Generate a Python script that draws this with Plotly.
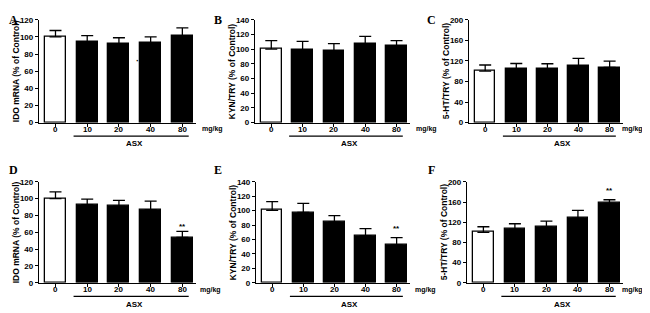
import plotly.graph_objects as go

# The page body has an 8px default margin, so the figure is drawn 8px in from the top-left.
OFF = 8
W, H = 650 - OFF, 313 - OFF

doses = ["0", "10", "20", "40", "80"]

ido_a = [100, 94, 92, 93, 101.5]
ido_a_err = [7.5, 7.5, 7, 7, 9]
kyn_b = [100, 99, 98, 107, 104.5]
kyn_b_err = [11.5, 11.5, 9.5, 10.5, 7]
ht_c = [100, 104, 104, 111, 107.5]
ht_c_err = [12, 11, 10.5, 14, 12]

ido_d = [100, 93, 91, 87, 54]
ido_d_err = [8, 6.5, 7, 10, 7]
kyn_e = [100.5, 97.5, 84.5, 65.5, 52.5]
kyn_e_err = [12, 12.5, 8.5, 9.5, 10]
ht_f = [100, 106.5, 110.5, 128, 157.5]
ht_f_err = [11, 10.5, 11.5, 15.5, 7]

panels = [
    dict(letter="A", vals=ido_a, err=ido_a_err, ymax=120, dtick=20, title="IDO mRNA (% of Control)", stars=None),
    dict(letter="B", vals=kyn_b, err=kyn_b_err, ymax=140, dtick=20, title="KYN/TRY (% of Control)", stars=None),
    dict(letter="C", vals=ht_c, err=ht_c_err, ymax=200, dtick=40, title="5-HT/TRY (% of Control)", stars=None),
    dict(letter="D", vals=ido_d, err=ido_d_err, ymax=120, dtick=20, title="IDO mRNA (% of Control)", stars=(4, 67)),
    dict(letter="E", vals=kyn_e, err=kyn_e_err, ymax=140, dtick=20, title="KYN/TRY (% of Control)", stars=(4, 75)),
    dict(letter="F", vals=ht_f, err=ht_f_err, ymax=200, dtick=40, title="5-HT/TRY (% of Control)", stars=(4, 183)),
]

# pixel geometry in window coordinates (layout only)
xdom_px = [(39, 196), (255, 410), (469, 623), (39, 196), (256, 410), (467, 623)]
ydom_px = [(16, 122), (16, 122), (16, 122), (183, 287), (183, 287), (183, 287)]
letter_px = [(8, 8), (213, 8), (426, 8), (8, 163), (213, 163), (427, 163)]
mgkg_px = [201, 415, 621, 199, 414, 621]

def px(x):
    return (x - OFF) / W

def py(y):
    return 1 - (y - OFF) / H

XR = [-0.52, 4.43]

fig = go.Figure()
LBL = dict(family="Liberation Sans, Arial", size=8, color="black", weight="bold")

for i, p in enumerate(panels):
    n = i + 1
    xa = "x" if n == 1 else f"x{n}"
    ya = "y" if n == 1 else f"y{n}"
    fig.add_trace(go.Bar(
        x=list(range(5)), y=p["vals"], width=0.66,
        marker=dict(color=["white"] + ["black"] * 4, line=dict(color="black", width=1.3)),
        error_y=dict(type="data", symmetric=False, array=p["err"], arrayminus=[0] * 5,
                     color="black", thickness=1.3, width=6),
        xaxis=xa, yaxis=ya, showlegend=False, hoverinfo="skip",
    ))
    x0, x1 = xdom_px[i]
    y0, y1 = ydom_px[i]
    xkey = "xaxis" if n == 1 else f"xaxis{n}"
    ykey = "yaxis" if n == 1 else f"yaxis{n}"
    fig.update_layout(**{
        xkey: dict(domain=[px(x0), px(x1)], range=XR, anchor=ya,
                   tickvals=list(range(5)), showticklabels=False,
                   showline=True, linecolor="black", linewidth=1.3,
                   ticks="outside", ticklen=3, tickwidth=1.3, tickcolor="black",
                   showgrid=False, zeroline=False, fixedrange=True),
        ykey: dict(domain=[py(y1), py(y0)], range=[0, p["ymax"]], anchor=xa,
                   tick0=0, dtick=p["dtick"],
                   showline=True, linecolor="black", linewidth=1.3,
                   ticks="outside", ticklen=3, tickwidth=1.3, tickcolor="black",
                   showgrid=False, zeroline=False, tickfont=LBL, fixedrange=True),
    })
    # x tick labels
    for k, d in enumerate(doses):
        fig.add_annotation(x=k, y=py(y1 + 7), xref=xa, yref="paper", text=d,
                           xanchor="center", yanchor="middle", showarrow=False, font=LBL)
    ymid = (y0 + y1) / 2
    # axis title
    fig.add_annotation(x=px(x0 - 23), y=py(ymid), xref="paper", yref="paper",
                       xanchor="center", yanchor="middle",
                       text=p["title"], textangle=-90, showarrow=False,
                       font=dict(family="Liberation Sans, Arial", size=8.5, color="black", weight="bold"))
    # panel letter
    lx, ly = letter_px[i]
    fig.add_annotation(x=px(lx), y=py(ly), xref="paper", yref="paper", xanchor="left",
                       yanchor="top", text=p["letter"], showarrow=False, borderpad=0,
                       font=dict(family="Liberation Serif, Times New Roman", size=12, color="black", weight="bold"))
    # mg/kg
    fig.add_annotation(x=px(mgkg_px[i]), y=py(y1 + 7), xref="paper", yref="paper",
                       xanchor="left", yanchor="middle", text="mg/kg", showarrow=False,
                       borderpad=0,
                       font=dict(family="Liberation Sans, Arial", size=7, color="black", weight="bold"))
    # ASX bracket line
    fig.add_shape(type="line", xref=xa, yref="paper", x0=0.57, x1=4.2,
                  y0=py(y1 + 14), y1=py(y1 + 14), line=dict(color="black", width=1.3))
    fig.add_annotation(x=2.5, y=py(y1 + 22), xref=xa, yref="paper", text="ASX",
                       xanchor="center", yanchor="middle", showarrow=False, font=LBL)
    if p["stars"]:
        sx, sy = p["stars"]
        fig.add_annotation(x=sx, y=sy, xref=xa, yref=ya, text="**", showarrow=False,
                           xanchor="center", yanchor="middle", font=LBL)

# small stray mark in panel A
fig.add_annotation(x=px(137.5), y=py(59), xref="paper", yref="paper", text="·",
                   xanchor="center", yanchor="middle",
                   showarrow=False, font=dict(family="Liberation Sans, Arial", size=9, color="black", weight="bold"))

fig.update_layout(width=W, height=H, margin=dict(l=0, r=0, t=0, b=0),
                  paper_bgcolor="white", plot_bgcolor="white", bargap=0)
fig.write_html("out.html")
